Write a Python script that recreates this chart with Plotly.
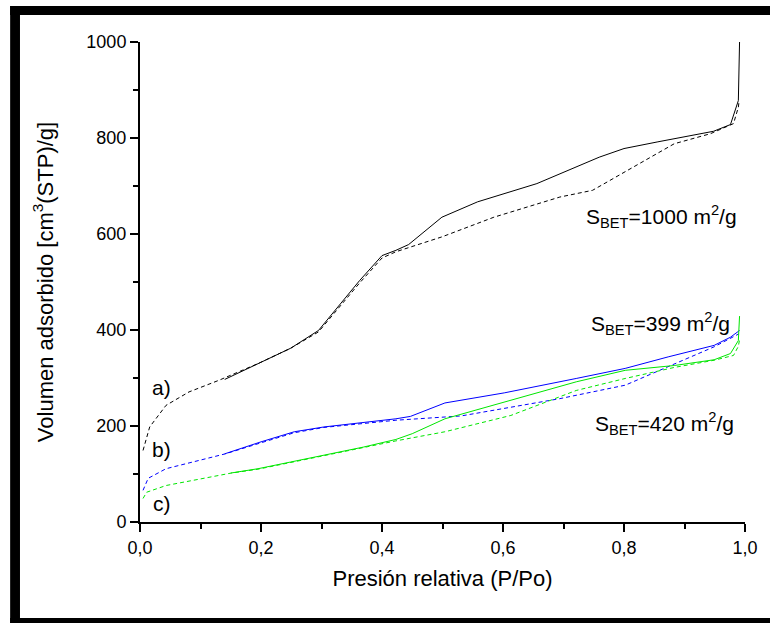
import plotly.graph_objects as go

# ---- data ----
# a) black sample
a_ads_x = [0.005, 0.016, 0.043, 0.081, 0.13, 0.195, 0.249, 0.295, 0.363, 0.40, 0.423, 0.499, 0.585, 0.694, 0.748, 0.80, 0.883, 0.943, 0.981, 0.989, 0.990]
a_ads_y = [149, 198, 243, 271, 295, 330, 362, 396, 498, 550, 563, 594, 635, 677, 691, 729, 788, 809, 830, 864, 875]
a_des_x = [0.14, 0.195, 0.249, 0.295, 0.363, 0.40, 0.423, 0.444, 0.499, 0.558, 0.656, 0.759, 0.80, 0.856, 0.948, 0.976, 0.989, 0.991]
a_des_y = [297, 330, 362, 399, 503, 555, 566, 578, 635, 667, 705, 760, 778, 792, 814, 828, 878, 1000]

# b) blue sample
b_ads_x = [0.005, 0.0135, 0.043, 0.098, 0.141, 0.2, 0.255, 0.304, 0.423, 0.531, 0.694, 0.802, 0.883, 0.949, 0.99]
b_ads_y = [66, 91, 111, 129, 142, 165, 186, 197, 212, 221, 257, 285, 330, 365, 392]
b_des_x = [0.14, 0.2, 0.255, 0.304, 0.423, 0.447, 0.504, 0.602, 0.721, 0.802, 0.873, 0.949, 0.976, 0.991]
b_des_y = [142, 167, 188, 198, 215, 220, 248, 269, 299, 320, 344, 368, 385, 399]

# c) green sample
c_ads_x = [0.005, 0.011, 0.043, 0.098, 0.151, 0.195, 0.249, 0.304, 0.369, 0.423, 0.504, 0.613, 0.721, 0.802, 0.883, 0.949, 0.981, 0.989, 0.991]
c_ads_y = [49, 62, 76, 90, 102, 110, 124, 138, 155, 169, 188, 222, 274, 299, 322, 337, 347, 366, 380]
c_des_x = [0.15, 0.195, 0.249, 0.304, 0.369, 0.423, 0.45, 0.504, 0.613, 0.721, 0.802, 0.883, 0.949, 0.976, 0.989, 0.991]
c_des_y = [102, 111, 125, 139, 156, 172, 184, 215, 254, 292, 316, 326, 338, 351, 378, 429]

x_tickvals = [0.0, 0.2, 0.4, 0.6, 0.8, 1.0]
x_ticktext = ["0,0", "0,2", "0,4", "0,6", "0,8", "1,0"]
y_tickvals = [0, 200, 400, 600, 800, 1000]
y_ticktext = ["0", "200", "400", "600", "800", "1000"]

FONT = "Liberation Sans, Arial, sans-serif"
DASH = "4px,3px"

fig = go.Figure()
series = [
    (a_ads_x, a_ads_y, "black", DASH),
    (a_des_x, a_des_y, "black", "solid"),
    (b_ads_x, b_ads_y, "#0000ff", DASH),
    (b_des_x, b_des_y, "#0000ff", "solid"),
    (c_ads_x, c_ads_y, "#00e600", DASH),
    (c_des_x, c_des_y, "#00e600", "solid"),
]
for xs, ys, col, dash in series:
    fig.add_trace(go.Scatter(x=xs, y=ys, mode="lines",
                             line=dict(color=col, width=1, dash=dash),
                             showlegend=False, hoverinfo="skip"))

ann = [
    (0.036, 281, "a)"),
    (0.036, 151, "b)"),
    (0.036, 39, "c)"),
    (0.862, 637, "S<sub>BET</sub>=1000 m<sup>2</sup>/g"),
    (0.861, 414, "S<sub>BET</sub>=399 m<sup>2</sup>/g"),
    (0.867, 205, "S<sub>BET</sub>=420 m<sup>2</sup>/g"),
]
for x, y, t in ann:
    fig.add_annotation(x=x, y=y, text=t, showarrow=False,
                       font=dict(family=FONT, size=21, color="black"),
                       xanchor="center", yanchor="middle")

W, H = 770, 623
L, R, T, B = 140, 15, 42, 101
pw, ph = W - L - R, H - T - B
def px(x):
    return (x - L) / pw
def py(y):
    return (H - B - y) / ph
# black frame bands (pixel coords of the picture)
frame = [
    (8, 6, 800, 15),     # top band
    (8, 6, 18, 640),     # left band
    (8, 618, 800, 640),  # bottom band
]
for x0, y0, x1, y1 in frame:
    fig.add_shape(type="rect", xref="paper", yref="paper",
                  x0=px(x0), x1=px(x1), y0=py(y1), y1=py(y0),
                  fillcolor="black", line=dict(width=0), layer="above")

fig.update_layout(
    width=W, height=H,
    margin=dict(l=L, r=R, t=T, b=B),
    paper_bgcolor="white", plot_bgcolor="white",
    font=dict(family=FONT, color="black"),
)
fig.update_xaxes(range=[0, 1.0], showgrid=False, zeroline=False,
                 showline=True, linecolor="black", linewidth=2,
                 ticks="outside", ticklen=8, tickwidth=2, tickcolor="black",
                 tickvals=x_tickvals, ticktext=x_ticktext,
                 tickfont=dict(size=18),
                 minor=dict(ticks="outside", ticklen=5, tickwidth=2, tickcolor="black", dtick=0.1, showgrid=False),
                 title=dict(text="Presión relativa (P/Po)", font=dict(size=22), standoff=14))
fig.update_yaxes(range=[0, 1000], showgrid=False, zeroline=False,
                 showline=True, linecolor="black", linewidth=2,
                 ticks="outside", ticklen=8, tickwidth=2, tickcolor="black",
                 tickvals=y_tickvals, ticktext=y_ticktext,
                 tickfont=dict(size=18),
                 minor=dict(ticks="outside", ticklen=5, tickwidth=2, tickcolor="black", dtick=100, showgrid=False),
                 title=dict(text="Volumen adsorbido [cm<sup>3</sup>(STP)/g]", font=dict(size=22), standoff=27))

fig.write_html("out.html",
               config={"displayModeBar": False, "staticPlot": True},
               post_script="document.body.style.margin='0';document.body.style.overflow='hidden';")
